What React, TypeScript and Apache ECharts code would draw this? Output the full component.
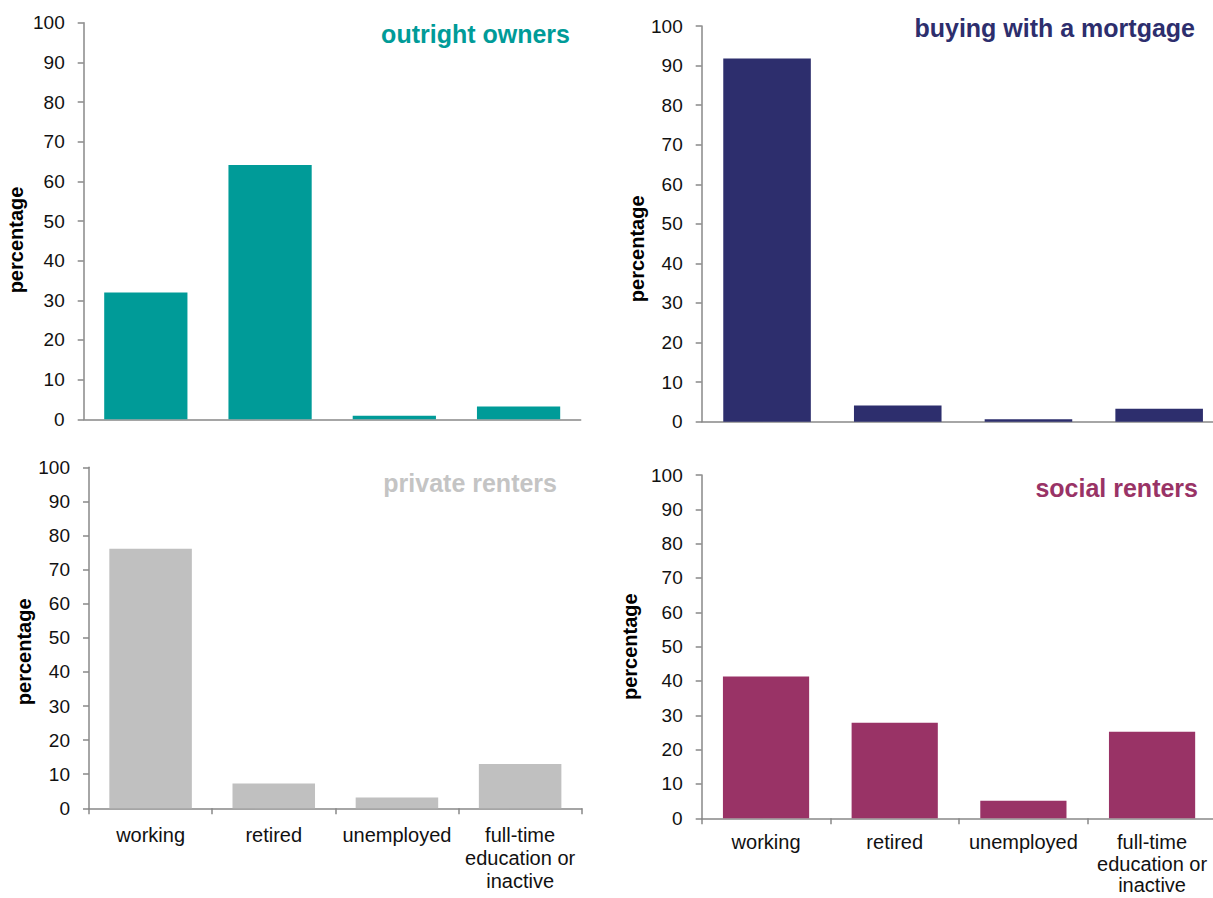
import React, { useEffect, useRef } from "react";
import * as echarts from "echarts";

// ---- data ----
const categories = ["working", "retired", "unemployed", "full-time\neducation or\ninactive"];
const outrightOwners = [32.0, 64.1, 0.9, 3.2];
const mortgageBuyers = [91.8, 4.1, 0.6, 3.3];
const privateRenters = [76.1, 7.3, 3.2, 13.0];
const socialRenters = [41.3, 27.8, 5.1, 25.2];
const panelTitles = ["outright owners", "buying with a mortgage", "private renters", "social renters"];
const yAxisTitle = "percentage";
const yMin = 0;
const yMax = 100;
const yStep = 10;

const FONT = '"Liberation Sans", Arial, Helvetica, sans-serif';
const AXIS_COLOR = "#888888";

// ---- layout / style of the four panels ----
const panels = [
  { values: outrightOwners, color: "#009B98", left: 83.7, top: 22.7, width: 497, height: 396.6, titleRight: 643, titleTop: 21, nameGap: 58, namePad: 38, xLabels: false, labelMargin: 15, labelLH: 23 },
  { values: mortgageBuyers, color: "#2D2E6D", left: 701.7, top: 26, width: 522.8, height: 395.7, titleRight: 18, titleTop: 15.5, nameGap: 54, namePad: 50, xLabels: false, labelMargin: 15, labelLH: 23 },
  { values: privateRenters, color: "#C0C0C0", left: 89, top: 467.3, width: 492.7, height: 341, titleRight: 656, titleTop: 470.5, nameGap: 55, namePad: 28, xLabels: true, labelMargin: 15, labelLH: 23 },
  { values: socialRenters, color: "#993366", left: 701.7, top: 475, width: 514.7, height: 343.3, titleRight: 15, titleTop: 475.8, nameGap: 62, namePad: 0, xLabels: true, labelMargin: 13, labelLH: 21.5 },
];

export default function App() {
  const ref = useRef<HTMLDivElement>(null);

  useEffect(() => {
    if (!ref.current) return;
    const chart = echarts.init(ref.current, undefined, { renderer: "svg" });

    const option: any = {
      animation: false,
      backgroundColor: "#ffffff",
      title: panels.map((p, i) => ({
        text: panelTitles[i],
        right: p.titleRight,
        top: p.titleTop,
        padding: 0,
        textStyle: {
          fontFamily: FONT,
          fontSize: 25,
          fontWeight: "bold",
          color: i === 2 ? "#C4C4C4" : p.color,
          lineHeight: 25,
        },
      })),
      grid: panels.map((p) => ({
        left: p.left,
        top: p.top,
        width: p.width,
        height: p.height,
        containLabel: false,
        outerBoundsMode: "none",
      })),
      xAxis: panels.map((p, i) => ({
        type: "category",
        gridIndex: i,
        data: categories,
        axisLine: { show: true, lineStyle: { color: AXIS_COLOR, width: 1.5 } },
        axisTick: { show: p.xLabels, length: 6, lineStyle: { color: AXIS_COLOR, width: 1.5 } },
        axisLabel: {
          show: p.xLabels,
          interval: 0,
          margin: p.labelMargin,
          fontFamily: FONT,
          fontSize: 20,
          lineHeight: p.labelLH,
          color: "#111111",
          align: "center",
        },
        splitLine: { show: false },
      })),
      yAxis: panels.map((p, i) => ({
        type: "value",
        gridIndex: i,
        min: yMin,
        max: yMax,
        interval: yStep,
        name: yAxisTitle,
        nameLocation: "middle",
        nameRotate: 90,
        nameGap: p.nameGap,
        nameTextStyle: {
          fontFamily: FONT,
          fontSize: 20,
          fontWeight: "bold",
          color: "#000000",
          padding: [0, p.namePad, 0, 0],
        },
        axisLine: { show: true, lineStyle: { color: AXIS_COLOR, width: 1.5 } },
        axisTick: { show: true, length: 6, lineStyle: { color: AXIS_COLOR, width: 1.5 } },
        axisLabel: {
          margin: 19,
          fontFamily: FONT,
          fontSize: 19,
          color: "#111111",
        },
        splitLine: { show: false },
      })),
      series: panels.map((p, i) => ({
        type: "bar",
        xAxisIndex: i,
        yAxisIndex: i,
        data: p.values,
        barCategoryGap: "33%",
        itemStyle: { color: p.color },
        silent: true,
      })),
    };

    chart.setOption(option);
    return () => chart.dispose();
  }, []);

  return (
    <div
      ref={ref}
      style={{ position: "fixed", left: 0, top: 0, width: 1213, height: 898, background: "#fff" }}
    />
  );
}
